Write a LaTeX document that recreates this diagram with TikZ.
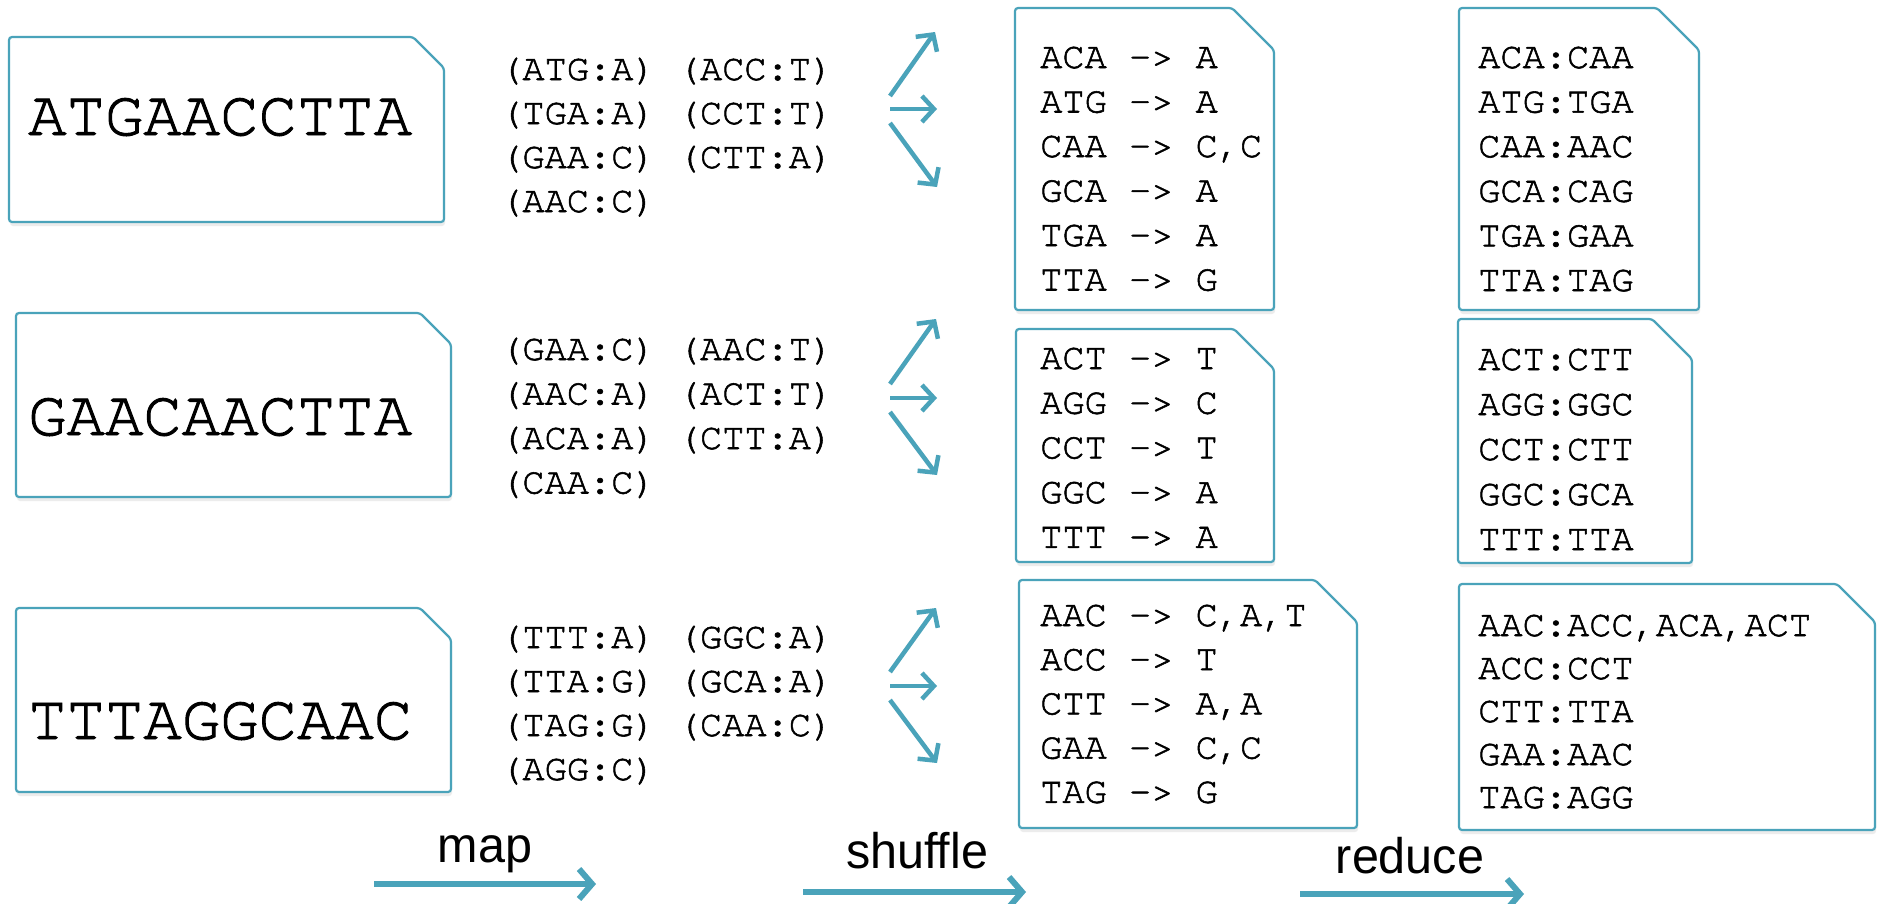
\documentclass[tikz,border=0pt]{standalone}
\usepackage{fontspec}
\setmonofont[FakeBold=1.5]{TeX Gyre Cursor}
\newfontfamily\lblfont[FakeStretch=0.97]{Liberation Sans}
\usetikzlibrary{arrows.meta,shadows}
\definecolor{tealc}{HTML}{4AA3BA}
\tikzset{
  card/.style={draw=tealc, line width=2.2pt, fill=white, rounded corners=3pt,
    drop shadow={shadow xshift=1pt, shadow yshift=-4pt, opacity=0.15}},
  flow/.style={draw=tealc, line width=4.5pt, -{Straight Barb[length=12pt,width=26pt]}},
  bigflow/.style={draw=tealc, line width=6pt, -{Straight Barb[length=13pt,width=30pt]}},
  seq/.style={font=\ttfamily\fontsize{64}{70}\selectfont, anchor=base west, inner sep=0pt},
  kv/.style={font=\ttfamily\fontsize{37}{44}\selectfont, anchor=base west, inner sep=0pt},
  lbl/.style={font=\lblfont\fontsize{50}{56}\selectfont, anchor=base, inner sep=0pt}
}
% card: name, left, top, right, bottom, corner cut
\newcommand\cardbox[6]{\path[card] (#2,#3) -- (#4-#6,#3) -- (#4,#3+#6) -- (#4,#5) -- (#2,#5) -- cycle;
  \coordinate (#1) at ({(#2+#4)/2},{(#3+#5)/2});}
% lines: name, x, first baseline, pitch, list
\newcommand\kvlines[5]{\foreach \t [count=\i from 0] in {#5}
  {\node[kv, name=#1-\i] at (#2,{#3+#4*\i}) {\t};}}
\begin{document}
\begin{tikzpicture}[x=1pt,y=-1pt]
\useasboundingbox (0,0) rectangle (1881,903);
\fill[white] (0,0) rectangle (1881,903);

% input cards
\cardbox{in1}{9}{37}{444}{222}{31}
\cardbox{in2}{16}{313}{451}{497}{31}
\cardbox{in3}{16}{608}{451}{792}{31}
\node[seq, name=seq1] at (28,135) {ATGAACCTTA};
\node[seq, name=seq2] at (28,435) {GAACAACTTA};
\node[seq, name=seq3] at (28,739) {TTTAGGCAAC};

% map output pairs
\kvlines{p1}{500}{80}{44}{{(ATG:A) (ACC:T)},{(TGA:A) (CCT:T)},{(GAA:C) (CTT:A)},{(AAC:C)}}
\kvlines{p2}{500}{360}{44.5}{{(GAA:C) (AAC:T)},{(AAC:A) (ACT:T)},{(ACA:A) (CTT:A)},{(CAA:C)}}
\kvlines{p3}{500}{648}{44}{{(TTT:A) (GGC:A)},{(TTA:G) (GCA:A)},{(TAG:G) (CAA:C)},{(AGG:C)}}

% fan-out arrows
\coordinate (f1us) at (890,96);  \coordinate (f1ue) at (935,32);
\coordinate (f1ms) at (890,109); \coordinate (f1me) at (937,109);
\coordinate (f1ds) at (890,123); \coordinate (f1de) at (937,187);
\coordinate (f2us) at (890,384); \coordinate (f2ue) at (936,319);
\coordinate (f2ms) at (890,398); \coordinate (f2me) at (937,398);
\coordinate (f2ds) at (890,412); \coordinate (f2de) at (937,475);
\coordinate (f3us) at (890,672); \coordinate (f3ue) at (936,608);
\coordinate (f3ms) at (890,686); \coordinate (f3me) at (937,686);
\coordinate (f3ds) at (890,700); \coordinate (f3de) at (937,763);
\foreach \k in {1,2,3}{
  \draw[flow] (f\k us) -- (f\k ue);
  \draw[flow] (f\k ms) -- (f\k me);
  \draw[flow] (f\k ds) -- (f\k de);
}

% shuffle cards
\cardbox{s1}{1015}{8}{1274}{310}{42}
\cardbox{s2}{1016}{329}{1274}{562}{40}
\cardbox{s3}{1019}{580}{1357}{828}{42}
\kvlines{sa}{1040}{68}{44.5}{ACA -> A,ATG -> A,{CAA -> C,C},GCA -> A,TGA -> A,TTA -> G}
\kvlines{sb}{1040}{369}{44.7}{ACT -> T,AGG -> C,CCT -> T,GGC -> A,TTT -> A}
\kvlines{sc}{1040}{626}{44.2}{{AAC -> C,A,T},ACC -> T,{CTT -> A,A},{GAA -> C,C},TAG -> G}

% reduce cards
\cardbox{r1}{1459}{8}{1699}{310}{42}
\cardbox{r2}{1458}{319}{1692}{563}{40}
\cardbox{r3}{1459}{584}{1875}{830}{38}
\kvlines{ra}{1478}{68}{44.6}{ACA:CAA,ATG:TGA,CAA:AAC,GCA:CAG,TGA:GAA,TTA:TAG}
\kvlines{rb}{1478}{370}{45}{ACT:CTT,AGG:GGC,CCT:CTT,GGC:GCA,TTT:TTA}
\kvlines{rc}{1478}{636}{43}{{AAC:ACC,ACA,ACT},ACC:CCT,CTT:TTA,GAA:AAC,TAG:AGG}

% stage arrows and labels
\coordinate (ms) at (374,884);  \coordinate (me) at (596,884);
\coordinate (ss) at (803,892);  \coordinate (se) at (1026,892);
\coordinate (rs) at (1300,894); \coordinate (re) at (1524,894);
\draw[bigflow] (ms) -- (me);
\draw[bigflow] (ss) -- (se);
\draw[bigflow] (rs) -- (re);
\node[lbl, name=lmap] at (485,862) {map};
\node[lbl, name=lshuffle] at (917,868) {shuffle};
\node[lbl, name=lreduce] at (1410,873) {reduce};
\end{tikzpicture}
\end{document}
